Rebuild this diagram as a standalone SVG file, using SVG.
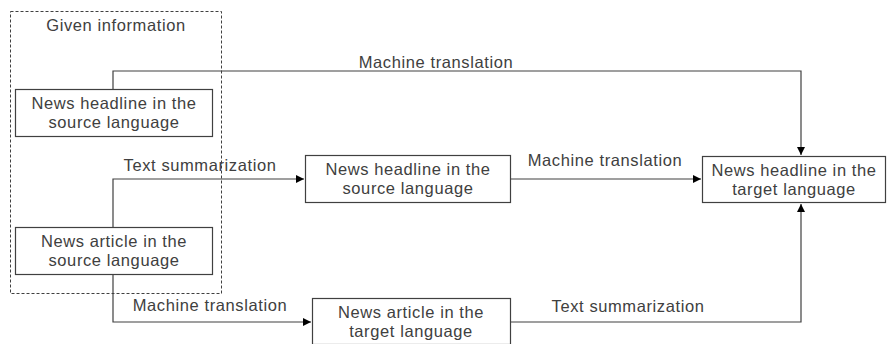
<svg xmlns="http://www.w3.org/2000/svg" width="888" height="344" viewBox="0 0 888 344">
<style>
text{font-family:"Liberation Sans","Noto Sans CJK JP",sans-serif;font-size:16.5px;letter-spacing:0.6px;fill:#404040}
.box{fill:#fff;stroke:#404040;stroke-width:1.2}
.c{fill:none;stroke:#404040;stroke-width:1.2}
</style>
<defs>
<marker id="ah" viewBox="0 0 10 10" refX="10" refY="5" markerWidth="8" markerHeight="8" markerUnits="userSpaceOnUse" orient="auto">
<path d="M0,0 L10,5 L0,10 z" fill="#000"/>
</marker>
</defs>
<rect x="10.5" y="11.5" width="211" height="282" fill="none" stroke="#404040" stroke-width="1" stroke-dasharray="3,2"/>
<text x="116" y="31" text-anchor="middle">Given information</text>
<g id="connectors">
<path class="c" d="M113,89 V71 H801 V155" marker-end="url(#ah)"/>
<path class="c" d="M113,227 V179 H304" marker-end="url(#ah)"/>
<path class="c" d="M113,275 V322 H311" marker-end="url(#ah)"/>
<path class="c" d="M511,179 H701" marker-end="url(#ah)"/>
<path class="c" d="M511,322 H801 V204" marker-end="url(#ah)"/>
<text x="436" y="68" text-anchor="middle">Machine translation</text>
<text x="200" y="171" text-anchor="middle">Text summarization</text>
<text x="210" y="311" text-anchor="middle">Machine translation</text>
<text x="605" y="166" text-anchor="middle">Machine translation</text>
<text x="628" y="312" text-anchor="middle">Text summarization</text>
</g>
<g id="n1">
<rect class="box" x="15.5" y="89.5" width="197" height="47"/>
<text x="114" y="109" text-anchor="middle">News headline in the</text>
<text x="114" y="128" text-anchor="middle">source language</text>
</g>
<g id="n2">
<rect class="box" x="15.5" y="227.5" width="197" height="47"/>
<text x="114" y="247" text-anchor="middle">News article in the</text>
<text x="114" y="266" text-anchor="middle">source language</text>
</g>
<g id="n3">
<rect class="box" x="305.5" y="155.5" width="205" height="47"/>
<text x="408" y="175" text-anchor="middle">News headline in the</text>
<text x="408" y="194" text-anchor="middle">source language</text>
</g>
<g id="n4">
<rect class="box" x="312.5" y="298.5" width="198" height="46"/>
<text x="411" y="318" text-anchor="middle">News article in the</text>
<text x="411" y="337" text-anchor="middle">target language</text>
</g>
<g id="n5">
<rect class="box" x="702.5" y="156.5" width="183" height="46"/>
<text x="794" y="176" text-anchor="middle">News headline in the</text>
<text x="794" y="195" text-anchor="middle">target language</text>
</g>
</svg>
